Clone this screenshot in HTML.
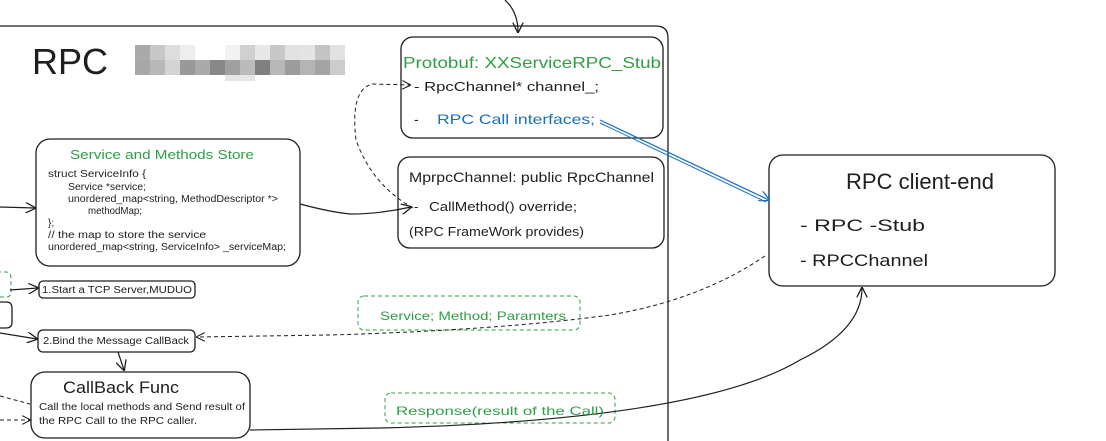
<!DOCTYPE html>
<html><head><meta charset="utf-8"><style>
html,body{margin:0;padding:0;background:#fff;width:1106px;height:441px;overflow:hidden}
svg text{font-family:"Liberation Sans",sans-serif}
</style></head><body>
<svg width="1106" height="441" viewBox="0 0 1106 441" xmlns="http://www.w3.org/2000/svg">
<defs>
<marker id="a" viewBox="0 0 10 10" refX="9" refY="5" markerWidth="9" markerHeight="9" orient="auto"><path d="M0,0 L10,5 L0,10" fill="none" stroke="#1e1e1e" stroke-width="1.2"/></marker>
<marker id="ab" viewBox="0 0 10 10" refX="9" refY="5" markerWidth="9" markerHeight="9" orient="auto"><path d="M0,0 L10,5 L0,10" fill="none" stroke="#1971c2" stroke-width="1.2"/></marker>
</defs>
<g fill="none" stroke="#1e1e1e" stroke-width="1.3">
<path d="M0,26 L656,26 Q668,26 668,38 L668,441"/>
<rect x="401" y="37" width="262" height="101" rx="12"/>
<rect x="398" y="157" width="266" height="91" rx="12"/>
<rect x="36" y="139" width="264" height="127" rx="14"/>
<rect x="769" y="155" width="286" height="131" rx="14"/>
<rect x="39" y="281" width="156" height="17" rx="4"/>
<rect x="38" y="330" width="157" height="22" rx="5"/>
<rect x="31" y="372" width="219" height="66" rx="14"/>
<path d="M-10,302 L6,302 Q12,302 12,308 L12,322 Q12,328 6,328 L-10,328"/>
</g>
<g fill="none" stroke="#2f9e44" stroke-width="1" stroke-dasharray="4 3">
<rect x="358" y="296" width="222" height="34" rx="6"/>
<rect x="385" y="393" width="230" height="30" rx="6"/>
<path d="M-10,272 L6,272 Q11,272 11,278 L11,292 Q11,297 6,297 L-10,297"/>
</g>
<g>
<rect x="135" y="45" width="15" height="15" fill="#aaa"/><rect x="150" y="45" width="15" height="15" fill="#c8c8c8"/><rect x="165" y="45" width="15" height="15" fill="#ddd"/><rect x="180" y="45" width="15" height="15" fill="#eee"/><rect x="225" y="45" width="15" height="15" fill="#f2f2f2"/><rect x="240" y="45" width="15" height="15" fill="#d0d0d0"/><rect x="255" y="45" width="15" height="15" fill="#e8e8e8"/><rect x="270" y="45" width="15" height="15" fill="#c8c8c8"/><rect x="285" y="45" width="15" height="15" fill="#e2e2e2"/><rect x="300" y="45" width="15" height="15" fill="#e4e4e4"/><rect x="315" y="45" width="15" height="15" fill="#c4c4c4"/><rect x="330" y="45" width="15" height="15" fill="#e2e2e2"/>
<rect x="135" y="60" width="15" height="15" fill="#a8a8a8"/><rect x="150" y="60" width="15" height="15" fill="#b8b8b8"/><rect x="165" y="60" width="15" height="15" fill="#d4d4d4"/><rect x="180" y="60" width="15" height="15" fill="#999"/><rect x="195" y="60" width="15" height="15" fill="#aaa"/><rect x="210" y="60" width="15" height="15" fill="#888"/><rect x="225" y="60" width="15" height="15" fill="#a0a0a0"/><rect x="240" y="60" width="15" height="15" fill="#bbb"/><rect x="255" y="60" width="15" height="15" fill="#808080"/><rect x="270" y="60" width="15" height="15" fill="#b8b8b8"/><rect x="285" y="60" width="15" height="15" fill="#9c9c9c"/><rect x="300" y="60" width="15" height="15" fill="#b4b4b4"/><rect x="315" y="60" width="15" height="15" fill="#a4a4a4"/><rect x="330" y="60" width="15" height="15" fill="#ccc"/>
<rect x="225" y="75" width="30" height="6" fill="#e6e6e6"/>
</g>
<g fill="none" stroke="#1e1e1e" stroke-width="1.2">
<path d="M505,0 Q518,12 518,32" marker-end="url(#a)"/>
<path d="M0,207 L35,208" marker-end="url(#a)"/>
<path d="M300,204 Q330,212 350,214 Q380,214 411,207" marker-end="url(#a)"/>
<path d="M10,290 L38,288" marker-end="url(#a)"/>
<path d="M0,333 L37,339" marker-end="url(#a)"/>
<path d="M118,352 L124,370" marker-end="url(#a)"/>
<path d="M250,430 L380,428 Q700,420 800,360 Q862,330 862,288" marker-end="url(#a)"/>
</g>
<g fill="none" stroke="#1e1e1e" stroke-width="1" stroke-dasharray="4 3">
<path d="M413,208 Q372,185 356,140 Q350,90 372,84 L410,85" marker-end="url(#a)"/>
<path d="M765,256 Q700,300 610,315 Q500,330 330,335 L197,337" marker-end="url(#a)"/>
<path d="M0,396 L30,404"/>
<path d="M0,420 L30,420" marker-end="url(#a)"/>
</g>
<path d="M600,120 L769,200" stroke="#1971c2" stroke-width="1.2" fill="none" marker-end="url(#ab)"/>
<path d="M600,123 L766,202" stroke="#1971c2" stroke-width="1" fill="none"/>
<text x="32" y="74" font-size="36" fill="#1e1e1e">RPC</text>
<text x="403" y="68" font-size="16" fill="#2f9e44" textLength="258" lengthAdjust="spacingAndGlyphs">Protobuf: XXServiceRPC_Stub</text>
<text x="414" y="91" font-size="13" fill="#1e1e1e" textLength="185" lengthAdjust="spacingAndGlyphs">-  RpcChannel* channel_;</text>
<text x="414" y="124" font-size="14" fill="#1e1e1e">-</text>
<text x="437" y="124" font-size="14" fill="#1971c2" textLength="158" lengthAdjust="spacingAndGlyphs">RPC Call interfaces;</text>
<text x="409" y="182" font-size="14" fill="#1e1e1e" textLength="245" lengthAdjust="spacingAndGlyphs">MprpcChannel: public RpcChannel</text>
<text x="414" y="211" font-size="13" fill="#1e1e1e">-</text>
<text x="429" y="211" font-size="13" fill="#1e1e1e" textLength="148" lengthAdjust="spacingAndGlyphs">CallMethod() override;</text>
<text x="409" y="236" font-size="13" fill="#1e1e1e" textLength="175" lengthAdjust="spacingAndGlyphs">(RPC FrameWork provides)</text>
<text x="70" y="159" font-size="13" fill="#2f9e44" textLength="184" lengthAdjust="spacingAndGlyphs">Service and Methods Store</text>
<g font-size="10" fill="#1e1e1e">
<text x="48" y="177" textLength="98" lengthAdjust="spacingAndGlyphs">struct ServiceInfo {</text>
<text x="68" y="190" textLength="78" lengthAdjust="spacingAndGlyphs">Service *service;</text>
<text x="68" y="202" textLength="210" lengthAdjust="spacingAndGlyphs">unordered_map&lt;string, MethodDescriptor *&gt;</text>
<text x="88" y="214" textLength="54" lengthAdjust="spacingAndGlyphs">methodMap;</text>
<text x="48" y="226">};</text>
<text x="48" y="238" textLength="158" lengthAdjust="spacingAndGlyphs">// the map to store the service</text>
<text x="48" y="250" textLength="238" lengthAdjust="spacingAndGlyphs">unordered_map&lt;string, ServiceInfo&gt; _serviceMap;</text>
<text x="42" y="293" textLength="150" lengthAdjust="spacingAndGlyphs">1.Start a TCP Server,MUDUO</text>
<text x="43" y="344" textLength="146" lengthAdjust="spacingAndGlyphs">2.Bind the Message CallBack</text>
<text x="39" y="410" textLength="206" lengthAdjust="spacingAndGlyphs">Call the local methods and Send result of</text>
<text x="39" y="424" textLength="158" lengthAdjust="spacingAndGlyphs">the RPC Call to the RPC caller.</text>
</g>
<text x="63" y="393" font-size="17" fill="#1e1e1e" textLength="116" lengthAdjust="spacingAndGlyphs">CallBack Func</text>
<text x="920" y="189" font-size="22" fill="#1e1e1e" text-anchor="middle">RPC client-end</text>
<text x="800" y="231" font-size="17" fill="#1e1e1e" textLength="125" lengthAdjust="spacingAndGlyphs">- RPC -Stub</text>
<text x="800" y="266" font-size="17" fill="#1e1e1e" textLength="128" lengthAdjust="spacingAndGlyphs">- RPCChannel</text>
<text x="380" y="320" font-size="12" fill="#2f9e44" textLength="186" lengthAdjust="spacingAndGlyphs">Service; Method; Paramters</text>
<text x="396" y="415" font-size="12" fill="#2f9e44" textLength="208" lengthAdjust="spacingAndGlyphs">Response(result of the Call)</text>
</svg>
</body></html>
